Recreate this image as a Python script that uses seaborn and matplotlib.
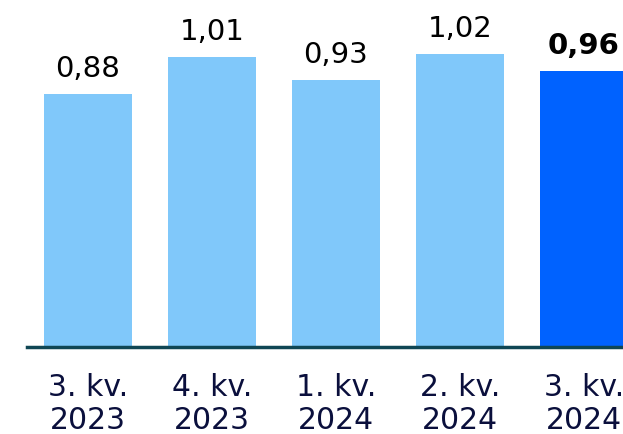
import matplotlib
matplotlib.use("Agg")
import matplotlib.pyplot as plt
import seaborn as sns
import pandas as pd

quarters = ["3. kv.\n2023", "4. kv.\n2023", "1. kv.\n2024", "2. kv.\n2024", "3. kv.\n2024"]
values = [0.88, 1.01, 0.93, 1.02, 0.96]
labels = ["0,88", "1,01", "0,93", "1,02", "0,96"]
colors = ["#80c8fa", "#80c8fa", "#80c8fa", "#80c8fa", "#0062ff"]

sns.set_style("white")
plt.rcParams["font.family"] = ["DejaVu Sans"]

df = pd.DataFrame({"quarter": quarters, "value": values})

fig = plt.figure(figsize=(6.23, 4.34), dpi=100)
ax = fig.add_axes([27 / 623, 87 / 434, 596 / 623, 347 / 434])
sns.barplot(data=df, x="quarter", y="value", hue="quarter", palette=colors,
            width=0.71, saturation=1, legend=False, linewidth=0, ax=ax)

for i, (v, lab) in enumerate(zip(values, labels)):
    ax.annotate(lab, (i, v), xytext=(0, 8), textcoords="offset points",
                ha="center", va="bottom", fontsize=21, color="black",
                fontweight="bold" if i == len(values) - 1 else "normal")

ax.set_xlim(-0.492, 4.315)
ax.set_ylim(0, 1.207)
for s in ["top", "right", "left"]:
    ax.spines[s].set_visible(False)
ax.spines["bottom"].set_color("#0f4654")
ax.spines["bottom"].set_linewidth(2.5)
ax.set_yticks([])
ax.set_xlabel("")
ax.set_ylabel("")
ax.tick_params(axis="x", length=0, pad=19, labelsize=21.5, labelcolor="#0a0f3c")
for t in ax.get_xticklabels():
    t.set_linespacing(1.15)

fig.savefig("out.png", dpi=100)
